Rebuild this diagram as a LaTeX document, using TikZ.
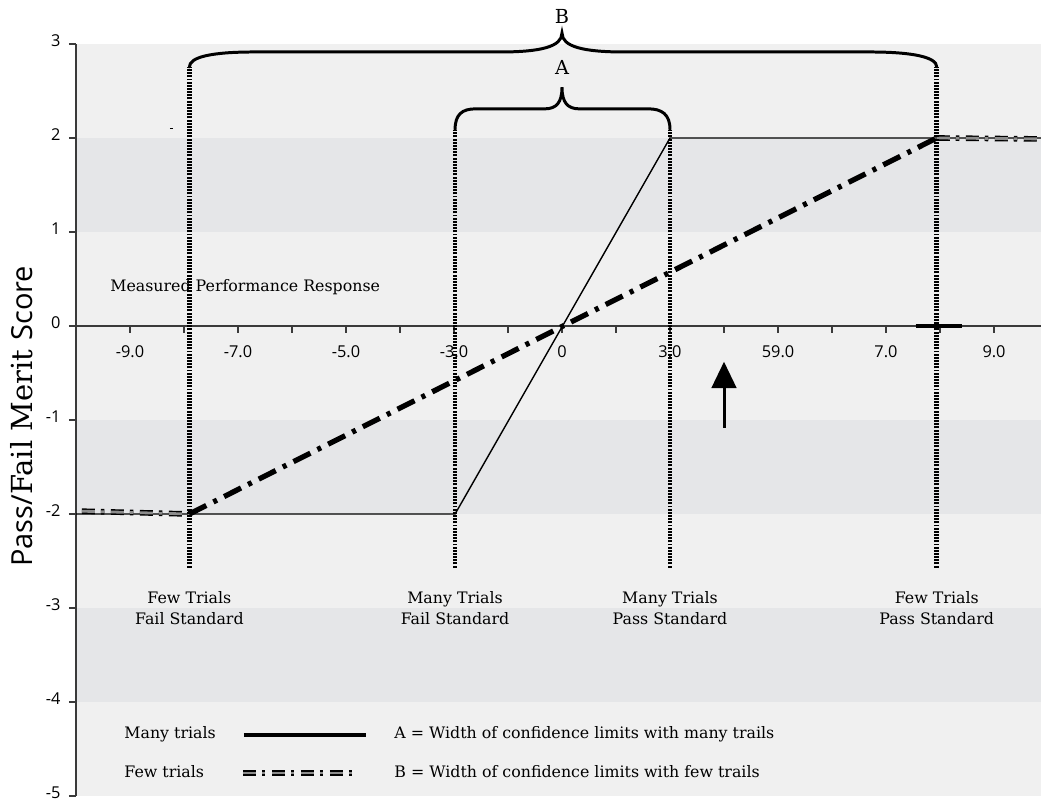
\documentclass[tikz,border=0pt]{standalone}
\usepackage{fontspec}
\setmainfont{DejaVu Serif}
\newfontfamily\axisfont{Open Sans}
\usetikzlibrary{arrows.meta}
\definecolor{paper}{HTML}{F0F0F0}
\definecolor{bandgray}{HTML}{E5E6E8}
\definecolor{axisgray}{HTML}{3A3A3A}
\def\limlabel#1#2#3#4{\node [limlabel] (#1) at (#2,-3.0) {#3\\#4}}
\tikzstyle{axisline}=[draw=axisgray,line width=1.1pt]
\tikzstyle{ticklabel}=[font=\axisfont\fontsize{9.3}{11}\selectfont,inner sep=0pt]
\tikzstyle{serifnode}=[font=\fontsize{9}{12}\selectfont,inner sep=0pt]
\tikzstyle{limlabel}=[serifnode,align=center]
\tikzstyle{manytrials}=[line width=0.8pt]
\tikzstyle{fewtrials}=[line width=3pt,dash pattern=on 10.8pt off 4.5pt on 2.3pt off 4.5pt]
\tikzstyle{fewgray}=[line width=0.8pt,double=gray!90,double distance=1.6pt,dash pattern=on 7.4pt off 3.4pt on 2pt off 3.7pt]
\tikzstyle{limit}=[line width=2.6pt,dash pattern=on 1.1pt off 0.7pt]
\tikzstyle{brace}=[line width=1.7pt,line cap=round]
\begin{document}
\begin{tikzpicture}[x=1.08cm,y=1.88cm]
    \useasboundingbox (-10.407,-5.064) rectangle (8.870,3.468);
    % background bands
    \fill[paper] (-9,-5) rectangle (8.87,3);
    \foreach \y in {2,-1,-3}
      \fill[bandgray] (-9,\y) rectangle (8.87,\y-1);
    % axes
    \draw[axisline] (-9,-5) -- (-9,3);
    \foreach \y [count=\i] in {3,2,...,-5} {
      \draw[axisline] (-9.13,\y) -- (-9,\y);
      \node[ticklabel,anchor=east] (ytick\i) at (-9.28,\y+0.04) {\y};
    }
    \draw[axisline] (-9,0) -- (8.87,0);
    \foreach \x in {-9,...,8}
      \draw[axisline] (\x,0) -- (\x,-0.07);
    \foreach \x/\t [count=\i] in {-8/-9.0,-6/-7.0,-4/-5.0,-2/-3.0,0/0,2/3.0,4/59.0,6/7.0,8/9.0}
      \node[ticklabel] (xtick\i) at (\x,-0.277) {\t};
    \draw[line width=1.8pt] (6.55,0) -- (7.4,0);
    \node[rotate=90,font=\fontsize{16.5}{18}\selectfont,inner sep=0pt] (ylabel) at (-10.0,-0.96)
      {{\axisfont Pass/}Fail Merit {\axisfont Score}};
    \node[serifnode,anchor=west] (resp) at (-8.37,0.415) {Measured Performance Response};
    \draw[line width=0.8pt] (-7.26,2.1) -- (-7.21,2.1);
    % many trials
    \coordinate (manyL) at (-9,-2);
    \coordinate (manyA) at (-1.98,-2);
    \coordinate (manyB) at (2,2);
    \coordinate (manyR) at (8.87,2);
    \draw[manytrials] (manyL) -- (manyA) -- (manyB) -- (manyR);
    % few trials
    \coordinate (fewL) at (-8.89,-1.97);
    \coordinate (fewA) at (-6.9,-2);
    \coordinate (fewB) at (6.94,2);
    \coordinate (fewR) at (8.87,1.99);
    \draw[fewgray] (fewL) -- (fewA);
    \draw[fewtrials] (fewA) -- (fewB);
    \draw[fewgray] (fewB) -- (fewR);
    % confidence limits
    \foreach \x/\top [count=\i] in {-6.9/2.755,-1.98/2.09,2/2.09,6.94/2.755} {
      \coordinate (limtop\i) at (\x,\top);
      \coordinate (limbot\i) at (\x,-2.57);
      \draw[limit] (limbot\i) -- (limtop\i);
    }
    \draw[brace] (limtop1) .. controls (-6.9,2.86) and (-6.5,2.915) .. (-5.7,2.915) -- (-1.15,2.915)
      .. controls (-0.4,2.915) and (0,2.97) .. (0,3.117) .. controls (0,2.97) and (0.4,2.915) .. (1.15,2.915)
      -- (5.7,2.915) .. controls (6.5,2.915) and (6.94,2.86) .. (limtop4);
    \draw[brace] (limtop2) .. controls (-1.98,2.25) and (-1.85,2.31) .. (-1.6,2.31) -- (-0.32,2.31)
      .. controls (-0.1,2.31) and (0,2.38) .. (0,2.54) .. controls (0,2.38) and (0.1,2.31) .. (0.32,2.31)
      -- (1.6,2.31) .. controls (1.85,2.31) and (2,2.25) .. (limtop3);
    \node[serifnode,font=\fontsize{11}{13}\selectfont] (labB) at (0,3.29) {B};
    \node[serifnode,font=\fontsize{11}{13}\selectfont] (labA) at (0,2.75) {A};
    % arrow
    \coordinate (arrfoot) at (3,-1.085);
    \coordinate (arrtip) at (3,-0.38);
    \draw[line width=1.7pt,-{Triangle[width=14pt,length=15pt]}] (arrfoot) -- (arrtip);
    % limit labels
    \limlabel{fewfail}{-6.9}{Few Trials}{Fail Standard};
    \limlabel{manyfail}{-1.98}{Many Trials}{Fail Standard};
    \limlabel{manypass}{2}{Many Trials}{Pass Standard};
    \limlabel{fewpass}{6.94}{Few Trials}{Pass Standard};
    % legend
    \node[serifnode,anchor=west] (legmany) at (-8.11,-4.34) {Many trials};
    \node[serifnode,anchor=west] (legfew) at (-8.11,-4.745) {Few trials};
    \coordinate (legmanyA) at (-5.89,-4.35);
    \coordinate (legmanyB) at (-3.63,-4.35);
    \coordinate (legfewA) at (-5.91,-4.755);
    \coordinate (legfewB) at (-3.8,-4.755);
    \draw[line width=2.2pt] (legmanyA) -- (legmanyB);
    \draw[fewgray] (legfewA) -- (legfewB);
    \node[serifnode,anchor=west] (legA) at (-3.11,-4.34) {A = Width of confidence limits with many trails};
    \node[serifnode,anchor=west] (legB) at (-3.11,-4.745) {B = Width of confidence limits with few trails};
  \end{tikzpicture}
\end{document}
